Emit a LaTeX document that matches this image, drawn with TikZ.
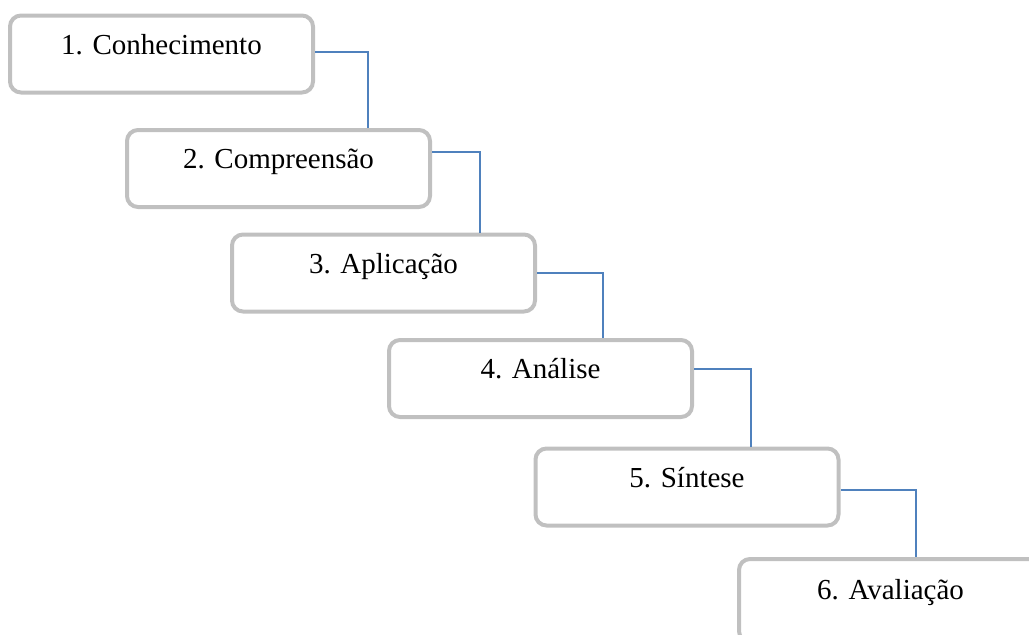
\documentclass[tikz,border=0pt]{standalone}
\usepackage{fontspec}
\setmainfont{Liberation Serif}
\usetikzlibrary{positioning}
\definecolor{boxgray}{RGB}{192,192,192}
\definecolor{linkblue}{RGB}{79,129,189}

\begin{document}
\begin{tikzpicture}[x=1pt,y=-1pt,
  level/.style={draw=boxgray, line width=4pt, rounded corners=11pt, shape=rectangle,
    minimum width=303pt, inner sep=0pt, text height=38.5pt, text depth=38.5pt,
    font=\fontsize{29}{34}\selectfont},
  link/.style={draw=linkblue, line width=1.2pt}]
      \useasboundingbox (0,0) rectangle (1029,635);
      \clip (0,0) rectangle (1029,635);

      \draw node (b1) at (161.5,54) [level]{1. Conhecimento};
\draw node (b2) at (278.5,168.5) [level]{2. Compreensão};
\draw node (b3) at (383.5,273) [level]{3. Aplicação};
\draw node (b4) at (540.5,378.5) [level]{4. Análise};
\draw node (b5) at (687,487) [level]{5. Síntese};
\draw node (b6) at (890.5,600.5) [level,text height=40pt,text depth=43pt]{6. Avaliação};
\draw[link] ([yshift=2pt]b1.east) -| ([xshift=89.5pt]b2.north)
  ([yshift=16.5pt]b2.east) -| ([xshift=96.5pt]b3.north)
  (b3.east) -| ([xshift=62.5pt]b4.north)
  ([yshift=9.5pt]b4.east) -| ([xshift=64pt]b5.north)
  ([yshift=-3pt]b5.east) -| ([xshift=25.5pt]b6.north);
\end{tikzpicture}
\end{document}
